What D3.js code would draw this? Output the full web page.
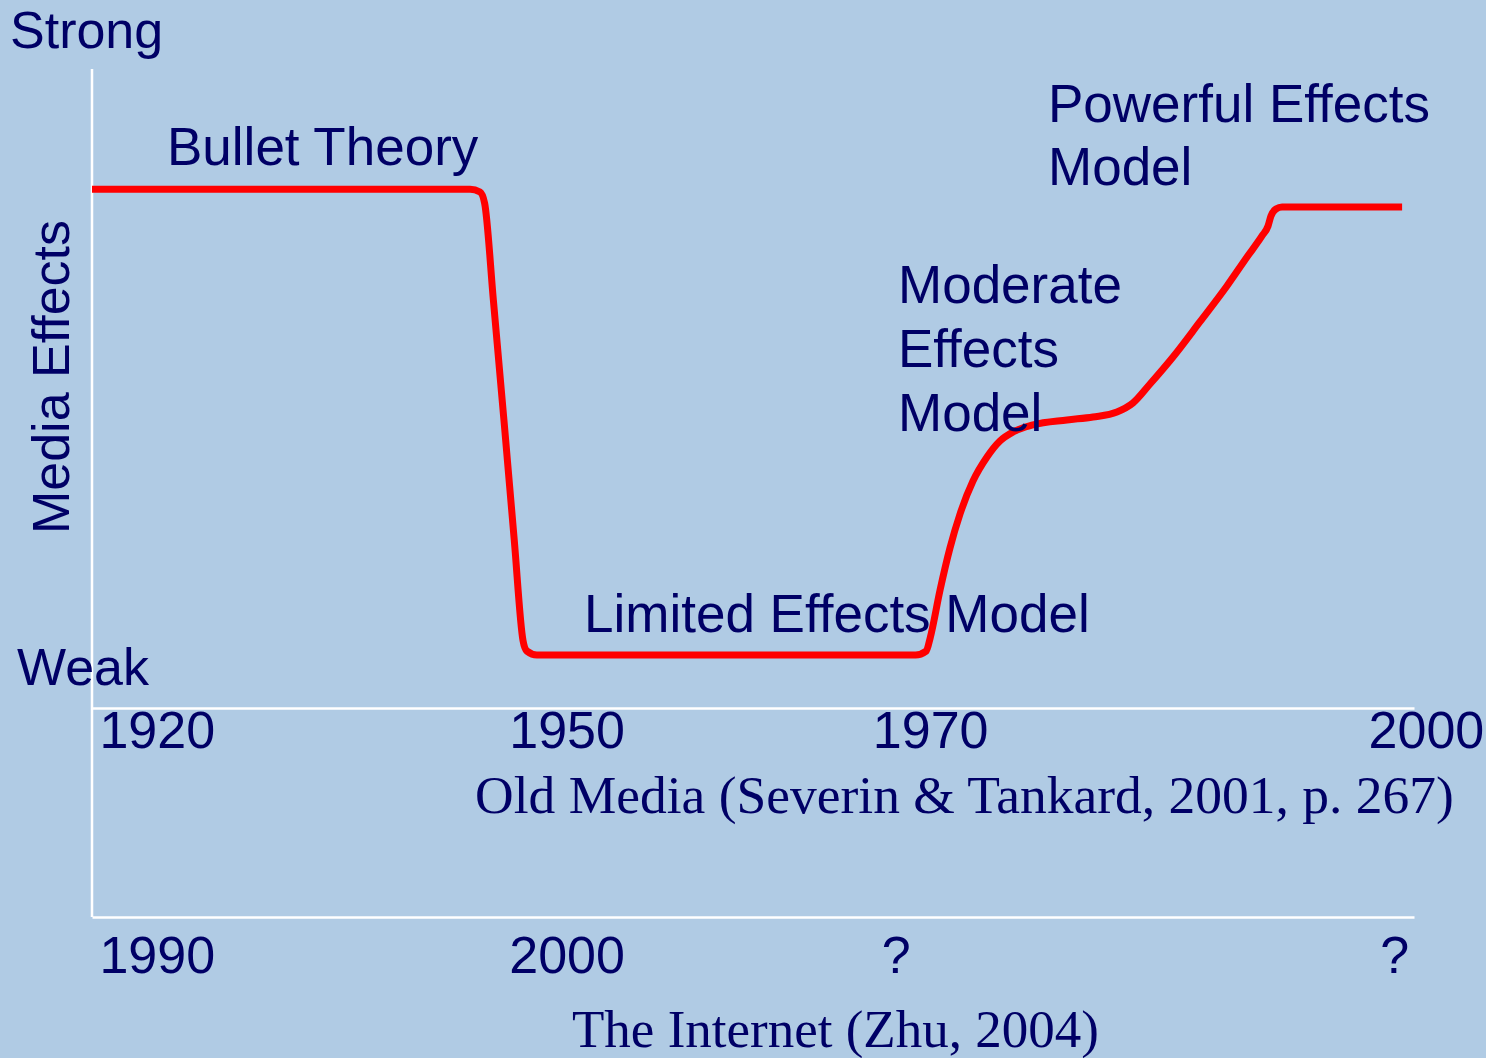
<!DOCTYPE html>
<html>
<head>
<meta charset="utf-8">
<script src="https://cdn.jsdelivr.net/npm/d3@7"></script>
<style>
  html, body { margin: 0; padding: 0; background: #B0CBE4; }
  svg { display: block; }
</style>
</head>
<body>
<svg id="chart" width="1486" height="1058"></svg>
<script>
// ---- data (timeline position 0-100, media effect strength 0-100) ----
const curveX = [0, 28.6, 29.35, 29.7, 30.36, 31.16, 31.94, 32.6, 32.9, 33.65, 62.3, 63.1, 63.4, 64.15, 64.9, 65.66, 66.64, 67.7,
  68.68, 69.67, 71.18, 73.75, 75.72, 77.53, 78.74, 80.03, 81.77, 83.8, 85.85, 87.37, 88.5, 88.96, 89.18,
  89.56, 90.02, 99.1];
const curveEffect = [81.2, 81.2, 80.75, 79.0, 63.85, 45.07, 26.29, 10.6, 8.9, 8.3, 8.3, 8.9, 10.95, 18.47, 25.04, 30.36, 35.52, 39.28,
  41.78, 43.19, 44.29, 45.07, 45.54, 46.32, 47.73, 50.7, 54.93, 60.41, 66.04, 70.58, 73.87, 75.43, 77.0,
  78.09, 78.4, 78.4];

const oldMediaTickPos = [4.9, 35.9, 63.4, 100.9];
const oldMediaTickLabels = ["1920", "1950", "1970", "2000"];
const internetTickPos = [4.9, 35.9, 60.8, 98.5];
const internetTickLabels = ["1990", "2000", "?", "?"];

const stageLabels = ["Bullet Theory", "Limited Effects Model", "Moderate Effects Model", "Powerful Effects Model"];

// ---- drawing ----
const NAVY = "#000066";
const SANS = "'Liberation Sans', Arial, sans-serif";
const SERIF = "'Liberation Serif', 'Times New Roman', serif";

const svg = d3.select("#chart");
svg.append("rect").attr("width", 1486).attr("height", 1058).attr("fill", "#B0CBE4");

const x = d3.scaleLinear().domain([0, 100]).range([92, 1414]);
const y = d3.scaleLinear().domain([0, 100]).range([708, 69]);
const oldAxisY = y(0);
const netAxisY = 917;

// vertical axis
svg.append("line")
  .attr("x1", x(0)).attr("x2", x(0))
  .attr("y1", y(100)).attr("y2", netAxisY)
  .attr("stroke", "#ffffff").attr("stroke-width", 2.5);

// red curve
const pts = curveX.map((d, i) => [d, curveEffect[i]]);
const line = d3.line().x(d => x(d[0])).y(d => y(d[1])).curve(d3.curveMonotoneX);
svg.append("path")
  .attr("d", line(pts))
  .attr("fill", "none")
  .attr("stroke", "#ff0000")
  .attr("stroke-width", 7)
  .attr("stroke-linejoin", "round");

// axes
function styleAxis(g, labelY) {
  g.select(".domain").attr("stroke", "#ffffff").attr("stroke-width", 2.5);
  g.selectAll(".tick line").remove();
  g.selectAll(".tick text")
    .attr("y", labelY).attr("dy", 0)
    .attr("fill", NAVY)
    .style("font-family", SANS)
    .style("font-size", "52px");
}

const oldAxis = svg.append("g")
  .attr("transform", `translate(0,${oldAxisY})`)
  .call(d3.axisBottom(x).tickValues(oldMediaTickPos)
    .tickFormat((d, i) => oldMediaTickLabels[i]).tickSize(0).tickSizeOuter(0));
styleAxis(oldAxis, 40);

const netAxis = svg.append("g")
  .attr("transform", `translate(0,${netAxisY})`)
  .call(d3.axisBottom(x).tickValues(internetTickPos)
    .tickFormat((d, i) => internetTickLabels[i]).tickSize(0).tickSizeOuter(0));
styleAxis(netAxis, 56);

// text helpers
function txt(str, tx, ty, opts = {}) {
  return svg.append("text")
    .attr("x", tx).attr("y", ty)
    .attr("fill", NAVY)
    .attr("text-anchor", opts.anchor || "start")
    .style("font-family", opts.font || SANS)
    .style("font-size", (opts.size || 53) + "px")
    .text(str);
}

txt("Strong", 10, 48, { size: 52 });
txt("Weak", 17, 685, { size: 52 });
svg.append("text")
  .attr("transform", "translate(69,377) rotate(-90)")
  .attr("text-anchor", "middle")
  .attr("fill", NAVY)
  .style("font-family", SANS).style("font-size", "52px")
  .text("Media Effects");

// stage labels
txt(stageLabels[0], 167, 165);
txt(stageLabels[1], 584, 632);
const mod = stageLabels[2].split(" ");
mod.forEach((w, i) => txt(w, 898, 303 + i * 64));
txt("Powerful Effects", 1048, 122);
txt("Model", 1048, 185);

// source captions
txt("Old Media (Severin & Tankard, 2001, p. 267)", 475, 813, { font: SERIF, size: 53.5 });
txt("The Internet (Zhu, 2004)", 572, 1047, { font: SERIF, size: 53 });
</script>
</body>
</html>
